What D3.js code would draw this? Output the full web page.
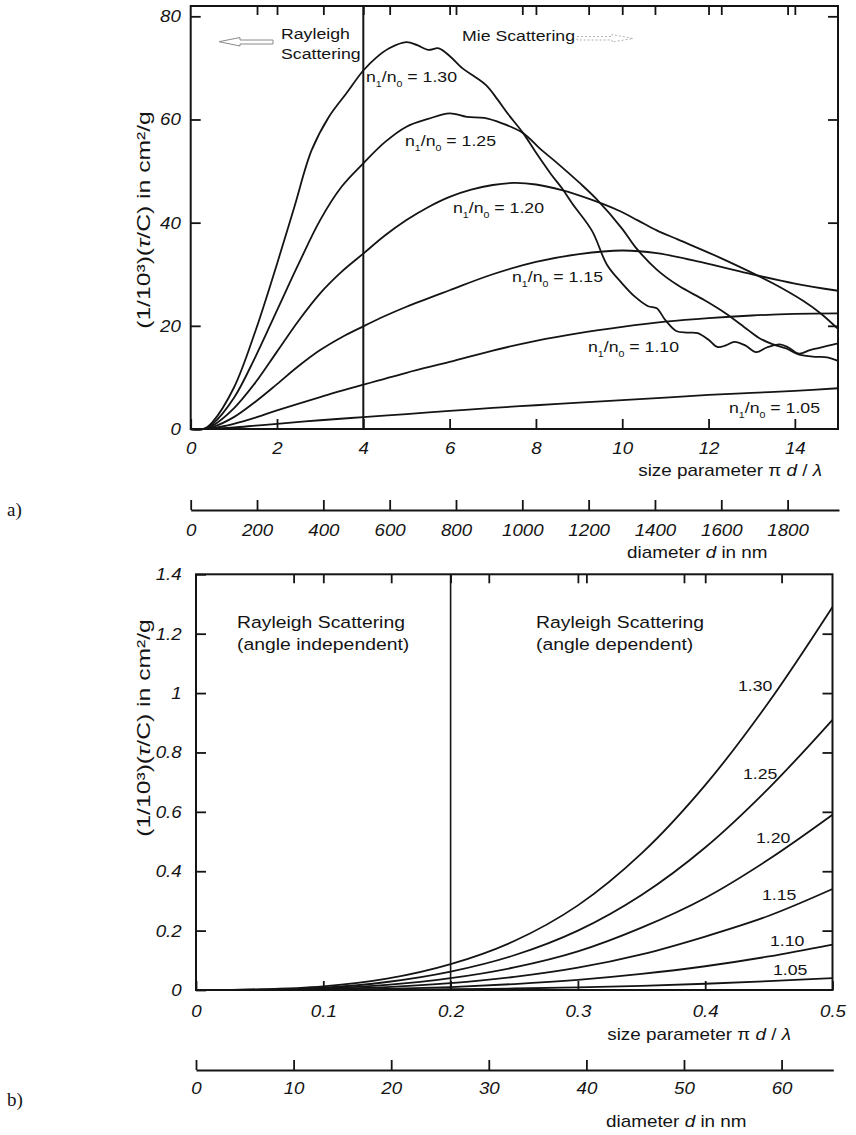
<!DOCTYPE html>
<html>
<head>
<meta charset="utf-8">
<script src="https://cdn.jsdelivr.net/npm/d3@7"></script>
<style>
  body { margin: 0; background: #fff; }
  svg text { font-family: "Liberation Sans", Arial, sans-serif; fill: #141414; }
</style>
</head>
<body>
<svg id="chart" width="856" height="1135"></svg>
<script>
// ---- data: panel a) Mie curves, [size parameter, (1/10^3)(tau/C)] ----
const mie105 = [[0,0],[0.3,0],[0.5,0.04],[1,0.3],[1.5,0.65],[2,1.0],[3,1.7],[4,2.3],[5,2.9],[6,3.5],[7,4.1],[8,4.6],[9,5.1],[10,5.6],[11,6.1],[12,6.6],[13,7.0],[14,7.4],[15,7.9]];
const mie110 = [[0,0],[0.3,0],[0.5,0.15],[1,1.0],[1.5,2.2],[2,3.6],[3,6.2],[4,8.6],[5,10.9],[6,13.0],[7,15.2],[8,17.1],[9,18.6],[10,19.8],[11,20.8],[12,21.5],[13,22.0],[14,22.3],[15,22.4]];
const mie115 = [[0,0],[0.3,0],[0.5,0.34],[1,2.3],[1.5,5.3],[2,8.7],[2.5,12.2],[3,15.3],[3.5,17.8],[4,19.9],[4.5,21.9],[5,23.7],[6,26.9],[7,30],[8,32.4],[9,33.9],[10,34.6],[10.8,34.1],[11.9,32.2],[12.9,30.2],[14,28.2],[15,26.8]];
const mie120 = [[0,0],[0.3,0],[0.5,0.6],[1,4],[1.5,9],[2,15],[2.5,21],[3,26.3],[3.5,30.5],[4,34],[4.5,37.5],[5,40.5],[5.5,43],[6,45],[6.5,46.4],[7,47.3],[7.5,47.7],[8,47.4],[8.6,46.3],[9.3,44.4],[9.9,42.4],[10.35,40.5],[10.8,38.5],[11.3,36.7],[12.4,32.7],[13.5,28.2],[14.2,24.8],[14.6,22.4],[15,19.4]];
const mie125 = [[0,0],[0.3,0],[0.5,0.9],[1,6],[1.5,14],[2,23],[2.5,32],[3,40.5],[3.5,47],[4,51.5],[4.5,55.6],[5,58.6],[5.5,60.1],[6,61.2],[6.4,60.5],[6.8,60.3],[7.2,59.3],[7.7,57.4],[8.1,54.3],[8.5,51.5],[9,47.8],[9.4,44.6],[10,38.8],[10.3,35.3],[10.8,30.9],[11.3,27.8],[11.9,25],[12.4,22.4],[12.9,19.3],[13.2,17.5],[13.5,16.4],[13.8,15.6],[14.1,14.4],[14.5,14],[14.75,13.9],[15,13.2]];
const mie130 = [[0,0],[0.3,0],[0.5,1.3],[1,8],[1.5,19],[2,32],[2.4,43],[2.8,54],[3.2,60.5],[3.6,65],[4,69.5],[4.3,72],[4.6,73.8],[5,75],[5.25,74.4],[5.5,73.5],[5.75,73.8],[6,72.3],[6.3,69.9],[6.6,68.2],[6.85,66.6],[7.1,64],[7.35,61.1],[7.7,57.4],[8,53.6],[8.35,49.4],[8.6,46.7],[8.85,43.6],[9.3,38.4],[9.65,31.8],[10,28.2],[10.3,25.6],[10.6,23.8],[10.8,23.4],[11,21.1],[11.25,19],[11.5,18.7],[11.75,18.6],[12,17.3],[12.2,15.9],[12.4,16.2],[12.6,16.9],[12.85,16.2],[13.1,14.9],[13.35,15.8],[13.65,16.4],[13.85,15.8],[14.1,14.6],[14.35,15.3],[14.55,15.7],[14.75,16.1],[15,16.6]];

// ---- data: panel b) Rayleigh region ----
const sizeB = [0, 0.05, 0.1, 0.15, 0.2, 0.25, 0.3, 0.35, 0.4, 0.45, 0.5];
const ray130 = [0, 0.002, 0.012, 0.038, 0.087, 0.165, 0.285, 0.46, 0.69, 0.97, 1.29];
const ray125 = [0, 0.001, 0.008, 0.027, 0.062, 0.117, 0.2, 0.32, 0.48, 0.68, 0.91];
const ray120 = [0, 0.001, 0.005, 0.017, 0.04, 0.076, 0.13, 0.21, 0.31, 0.44, 0.59];
const ray115 = [0, 0, 0.003, 0.01, 0.023, 0.044, 0.075, 0.12, 0.18, 0.25, 0.34];
const ray110 = [0, 0, 0.001, 0.004, 0.01, 0.02, 0.034, 0.054, 0.08, 0.113, 0.153];
const ray105 = [0, 0, 0, 0.001, 0.003, 0.005, 0.009, 0.014, 0.021, 0.03, 0.04];

// tick labels
const ticksSizeA = [0, 2, 4, 6, 8, 10, 12, 14];
const ticksDiamA = [0, 200, 400, 600, 800, 1000, 1200, 1400, 1600, 1800];
const ticksYA = [0, 20, 40, 60, 80];
const ticksSizeB = [0, 0.1, 0.2, 0.3, 0.4, 0.5];
const ticksDiamB = [0, 10, 20, 30, 40, 50, 60];
const ticksYB = [0, 0.2, 0.4, 0.6, 0.8, 1, 1.2, 1.4];

const svg = d3.select("#chart");
svg.append("rect").attr("width", 856).attr("height", 1135).attr("fill", "#fff");

// text with a horizontal stretch (the scanned figure is a bit wide)
// parts: array of {t, sub, it}
function stext(g, x, y, parts, o) {
    o = o || {};
    const size = o.size || 16;
    const t = g.append("text")
        .attr("transform", `translate(${x},${y})` + (o.rotate ? ` rotate(${o.rotate})` : "") + ` scale(${o.sx || 1.18},1)`)
        .attr("text-anchor", o.anchor || "start")
        .style("font-size", size + "px");
    if (typeof parts === "string") parts = [{ t: parts }];
    let shift = 0;
    parts.forEach(p => {
        const s = t.append("tspan").text(p.t);
        let want = 0;
        if (p.sub) { s.style("font-size", (size * 0.6) + "px"); want = size * 0.3; }
        if (p.it) s.style("font-style", "italic");
        if (want !== shift) { s.attr("dy", want - shift); shift = want; }
    });
    return t;
}

function styleTicks(g, size) {
    g.selectAll(".tick line").attr("stroke", "#141414").attr("stroke-width", 1.8);
    g.selectAll(".tick text")
        .attr("fill", "#141414")
        .style("font-size", size + "px")
        .style("font-style", "italic")
        .attr("font-family", null);
    g.attr("font-family", null).attr("font-size", null);
}

function nlabel(g, x, y, val) {
    stext(g, x, y, [{ t: "n" }, { t: "1", sub: true }, { t: "/n" }, { t: "0", sub: true }, { t: " = " + val }], { size: 15 });
}

const line = (xs, ys) => d3.line().x(d => xs(d[0])).y(d => ys(d[1])).curve(d3.curveCatmullRom.alpha(0.5));

// ================= panel a) =================
const gA = svg.append("g");
const xA = d3.scaleLinear().domain([0, 15]).range([190.7, 838]);
const yA = d3.scaleLinear().domain([0, 82]).range([429, 6]);
const dA = d3.scaleLinear().domain([0, 1955]).range([190.7, 839]);

// ticks on the frame
const axBA = gA.append("g").attr("transform", "translate(0,429)")
    .call(d3.axisBottom(xA).tickValues(ticksSizeA).tickSizeInner(-10).tickSizeOuter(0).tickPadding(13).tickFormat(d3.format("d")));
axBA.select(".domain").remove();
styleTicks(axBA, 17);
axBA.selectAll(".tick text").attr("transform", "scale(1.1,1)");

const axTA = gA.append("g").attr("transform", "translate(0,6)")
    .call(d3.axisTop(xA).tickValues(ticksSizeA.slice(1)).tickSizeInner(-9).tickSizeOuter(0).tickFormat(""));
axTA.select(".domain").remove(); styleTicks(axTA, 10);
const axTDA = gA.append("g").attr("transform", "translate(0,6)")
    .call(d3.axisTop(dA).tickValues(ticksDiamA.slice(1)).tickSizeInner(-9).tickSizeOuter(0).tickFormat(""));
axTDA.select(".domain").remove(); styleTicks(axTDA, 10);

const axLA = gA.append("g").attr("transform", "translate(190.7,0)")
    .call(d3.axisLeft(yA).tickValues(ticksYA).tickSizeInner(-10).tickSizeOuter(0).tickPadding(9));
axLA.select(".domain").remove();
styleTicks(axLA, 17);
axLA.selectAll(".tick text").attr("transform", "scale(1.1,1)");

const axRA = gA.append("g").attr("transform", "translate(838,0)")
    .call(d3.axisRight(yA).tickValues(ticksYA.slice(1)).tickSizeInner(-10).tickSizeOuter(0).tickFormat(""));
axRA.select(".domain").remove(); styleTicks(axRA, 10);

// frame
gA.append("rect").attr("x", xA(0)).attr("y", yA.range()[1])
    .attr("width", xA(15) - xA(0)).attr("height", yA(0) - yA.range()[1])
    .attr("fill", "none").attr("stroke", "#141414").attr("stroke-width", 2);

// Rayleigh / Mie border
gA.append("line").attr("x1", xA(4)).attr("x2", xA(4)).attr("y1", yA.range()[1]).attr("y2", yA(0))
    .attr("stroke", "#141414").attr("stroke-width", 2);

// curves
const seriesA = [mie105, mie110, mie115, mie120, mie125, mie130];
gA.append("g").selectAll("path").data(seriesA).join("path")
    .attr("d", line(xA, yA))
    .attr("fill", "none").attr("stroke", "#141414").attr("stroke-width", 1.8);

// curve labels
nlabel(gA, 366, 82, "1.30");
nlabel(gA, 405, 146, "1.25");
nlabel(gA, 453, 213, "1.20");
nlabel(gA, 512, 282, "1.15");
nlabel(gA, 588, 352, "1.10");
nlabel(gA, 729, 413, "1.05");

// regime annotations
stext(gA, 281, 39, "Rayleigh", { size: 15 });
stext(gA, 281, 59, "Scattering", { size: 15 });
stext(gA, 462, 41, "Mie Scattering", { size: 15 });
gA.append("path")
    .attr("d", "M219,41.7 L240,37.5 L240,40 L273,40 L273,44 L240,44 L240,46 Z")
    .attr("fill", "#fff").attr("stroke", "#8a8a8a").attr("stroke-width", 1);
gA.append("path")
    .attr("d", "M577,36.5 L612,36.5 L612,34.5 L633,38.5 L612,42 L612,40 L577,40 Z")
    .attr("fill", "none").attr("stroke", "#b0b0b0").attr("stroke-width", 1).attr("stroke-dasharray", "2,2");

// y title
stext(gA, 150, 220, [{ t: "(1/10³)(" }, { t: "τ", it: true }, { t: "/C) in cm²/g" }], { size: 19, rotate: -90, anchor: "middle", sx: 1.3 });

// x title
stext(gA, 822, 476, [{ t: "size parameter π " }, { t: "d", it: true }, { t: " / " }, { t: "λ", it: true }], { size: 16, anchor: "end" });

// diameter axis
const axDA = gA.append("g").attr("transform", "translate(0,510)")
    .call(d3.axisBottom(dA).tickValues(ticksDiamA).tickSizeInner(-10).tickSizeOuter(0).tickPadding(14).tickFormat(d3.format("d")));
axDA.select(".domain").attr("stroke", "#141414").attr("stroke-width", 2);
styleTicks(axDA, 17);
axDA.selectAll(".tick text").attr("transform", "scale(1.1,1)");
stext(gA, 627, 558, [{ t: "diameter " }, { t: "d", it: true }, { t: " in nm" }], { size: 16 });

svg.append("text").attr("x", 7).attr("y", 516).text("a)")
    .style("font-family", "'Liberation Serif', serif").style("font-size", "19px");

// ================= panel b) =================
const gB = svg.append("g");
const xB = d3.scaleLinear().domain([0, 0.5]).range([196, 832.5]);
const yB = d3.scaleLinear().domain([0, 1.4]).range([990, 574.3]);
const dB = d3.scaleLinear().domain([0, 65.3]).range([196, 833.3]);
const fmtB = d => d === 0 ? "0" : d === 1 ? "1" : d3.format(".1f")(d);

const axBB = gB.append("g").attr("transform", "translate(0,990)")
    .call(d3.axisBottom(xB).tickValues(ticksSizeB).tickSizeInner(-9).tickSizeOuter(0).tickPadding(15).tickFormat(fmtB));
axBB.select(".domain").remove();
styleTicks(axBB, 17);
axBB.selectAll(".tick text").attr("transform", "scale(1.1,1)");

const axTB = gB.append("g").attr("transform", "translate(0,574.3)")
    .call(d3.axisTop(xB).tickValues(ticksSizeB.slice(1, 5)).tickSizeInner(-9).tickSizeOuter(0).tickFormat(""));
axTB.select(".domain").remove(); styleTicks(axTB, 10);
const axTDB = gB.append("g").attr("transform", "translate(0,574.3)")
    .call(d3.axisTop(dB).tickValues(ticksDiamB.slice(1)).tickSizeInner(-9).tickSizeOuter(0).tickFormat(""));
axTDB.select(".domain").remove(); styleTicks(axTDB, 10);

const axLB = gB.append("g").attr("transform", "translate(196,0)")
    .call(d3.axisLeft(yB).tickValues(ticksYB).tickSizeInner(-10).tickSizeOuter(0).tickPadding(13).tickFormat(fmtB));
axLB.select(".domain").remove();
styleTicks(axLB, 17);
axLB.selectAll(".tick text").attr("transform", "scale(1.1,1)");

const axRB = gB.append("g").attr("transform", "translate(832.5,0)")
    .call(d3.axisRight(yB).tickValues(ticksYB.slice(1, 7)).tickSizeInner(-10).tickSizeOuter(0).tickFormat(""));
axRB.select(".domain").remove(); styleTicks(axRB, 10);

gB.append("rect").attr("x", xB(0)).attr("y", yB(1.4))
    .attr("width", xB(0.5) - xB(0)).attr("height", yB(0) - yB(1.4))
    .attr("fill", "none").attr("stroke", "#141414").attr("stroke-width", 2);

gB.append("line").attr("x1", xB(0.2)).attr("x2", xB(0.2)).attr("y1", yB(1.4)).attr("y2", yB(0))
    .attr("stroke", "#141414").attr("stroke-width", 1.6);

const seriesB = [ray105, ray110, ray115, ray120, ray125, ray130].map(vals => vals.map((v, i) => [sizeB[i], v]));
gB.append("g").selectAll("path").data(seriesB).join("path")
    .attr("d", line(xB, yB))
    .attr("fill", "none").attr("stroke", "#141414").attr("stroke-width", 1.8);

stext(gB, 738, 691, "1.30", { size: 15 });
stext(gB, 743, 779, "1.25", { size: 15 });
stext(gB, 756, 843, "1.20", { size: 15 });
stext(gB, 762, 900, "1.15", { size: 15 });
stext(gB, 770, 946, "1.10", { size: 15 });
stext(gB, 773, 975, "1.05", { size: 15 });

stext(gB, 237, 628, "Rayleigh Scattering", { size: 17, sx: 1.14 });
stext(gB, 237, 650, "(angle independent)", { size: 17, sx: 1.14 });
stext(gB, 536, 628, "Rayleigh Scattering", { size: 17, sx: 1.14 });
stext(gB, 536, 650, "(angle dependent)", { size: 17, sx: 1.14 });

stext(gB, 150, 728, [{ t: "(1/10³)(" }, { t: "τ", it: true }, { t: "/C) in cm²/g" }], { size: 19, rotate: -90, anchor: "middle", sx: 1.3 });
stext(gB, 791, 1040, [{ t: "size parameter π " }, { t: "d", it: true }, { t: " / " }, { t: "λ", it: true }], { size: 16, anchor: "end" });

const axDB = gB.append("g").attr("transform", "translate(0,1070)")
    .call(d3.axisBottom(dB).tickValues(ticksDiamB).tickSizeInner(-10).tickSizeOuter(0).tickPadding(12).tickFormat(d3.format("d")));
axDB.select(".domain").attr("stroke", "#141414").attr("stroke-width", 2);
styleTicks(axDB, 17);
axDB.selectAll(".tick text").attr("transform", "scale(1.1,1)");
stext(gB, 606, 1127, [{ t: "diameter " }, { t: "d", it: true }, { t: " in nm" }], { size: 16 });

svg.append("text").attr("x", 7).attr("y", 1106).text("b)")
    .style("font-family", "'Liberation Serif', serif").style("font-size", "19px");
</script>
</body>
</html>
